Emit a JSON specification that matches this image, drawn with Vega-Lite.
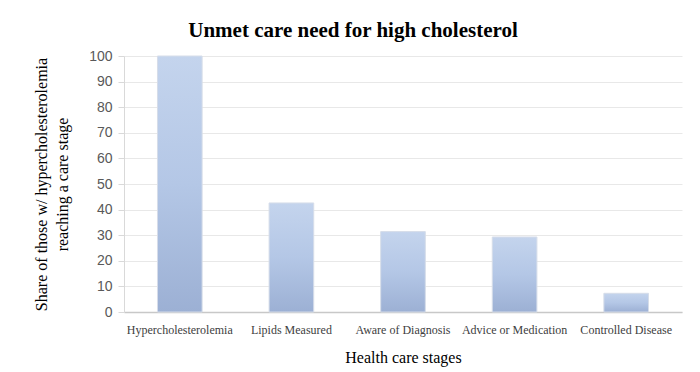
{
  "$schema": "https://vega.github.io/schema/vega-lite/v6.json",
  "autosize": {"type": "none"},
  "width": 558,
  "height": 256,
  "padding": {"left": 124, "top": 56, "right": 18, "bottom": 60},
  "background": "white",
  "title": {
    "text": "Unmet care need for high cholesterol",
    "font": "Liberation Serif",
    "fontSize": 21,
    "fontWeight": "bold",
    "color": "black",
    "anchor": "middle",
    "dx": -50,
    "offset": 8
  },
  "data": {
    "values": [
      {"stage": "Hypercholesterolemia", "share": 100},
      {"stage": "Lipids Measured", "share": 42.6},
      {"stage": "Aware of Diagnosis", "share": 31.4},
      {"stage": "Advice or Medication", "share": 29.3},
      {"stage": "Controlled Disease", "share": 7.3}
    ]
  },
  "mark": {
    "type": "bar",
    "stroke": "#d6dde9",
    "strokeWidth": 1,
    "color": {
      "gradient": "linear",
      "x1": 0, "y1": 0, "x2": 0, "y2": 1,
      "stops": [
        {"offset": 0, "color": "#c4d4ed"},
        {"offset": 0.5, "color": "#b4c7e6"},
        {"offset": 1, "color": "#9cb0d4"}
      ]
    }
  },
  "encoding": {
    "x": {
      "field": "stage",
      "type": "nominal",
      "sort": null,
      "scale": {"paddingInner": 0.6, "paddingOuter": 0.3},
      "axis": {
        "title": "Health care stages",
        "titleFont": "Liberation Serif",
        "titleFontSize": 16,
        "titleFontWeight": "normal",
        "titleColor": "black",
        "titlePadding": 14,
        "labelFont": "Liberation Serif",
        "labelFontSize": 12,
        "labelColor": "#404040",
        "labelAngle": 0,
        "labelPadding": 12,
        "ticks": false,
        "domainColor": "#c8c8c8",
        "domainWidth": 1.5
      }
    },
    "y": {
      "field": "share",
      "type": "quantitative",
      "scale": {"domain": [0, 100], "nice": false},
      "axis": {
        "title": ["Share of those w/ hypercholesterolemia", "reaching a care stage"],
        "titleFont": "Liberation Serif",
        "titleFontSize": 16,
        "titleFontWeight": "normal",
        "titleColor": "black",
        "titlePadding": 18,
        "titleLineHeight": 21,
        "values": [0, 10, 20, 30, 40, 50, 60, 70, 80, 90, 100],
        "labelFont": "Liberation Sans",
        "labelFontSize": 14,
        "labelColor": "#595959",
        "labelPadding": 6,
        "tickSize": 6,
        "tickColor": "#d9d9d9",
        "domain": true,
        "domainColor": "#d9d9d9",
        "gridColor": "#e8e8e8",
        "gridWidth": 1
      }
    }
  },
  "config": {
    "view": {"stroke": null}
  }
}
